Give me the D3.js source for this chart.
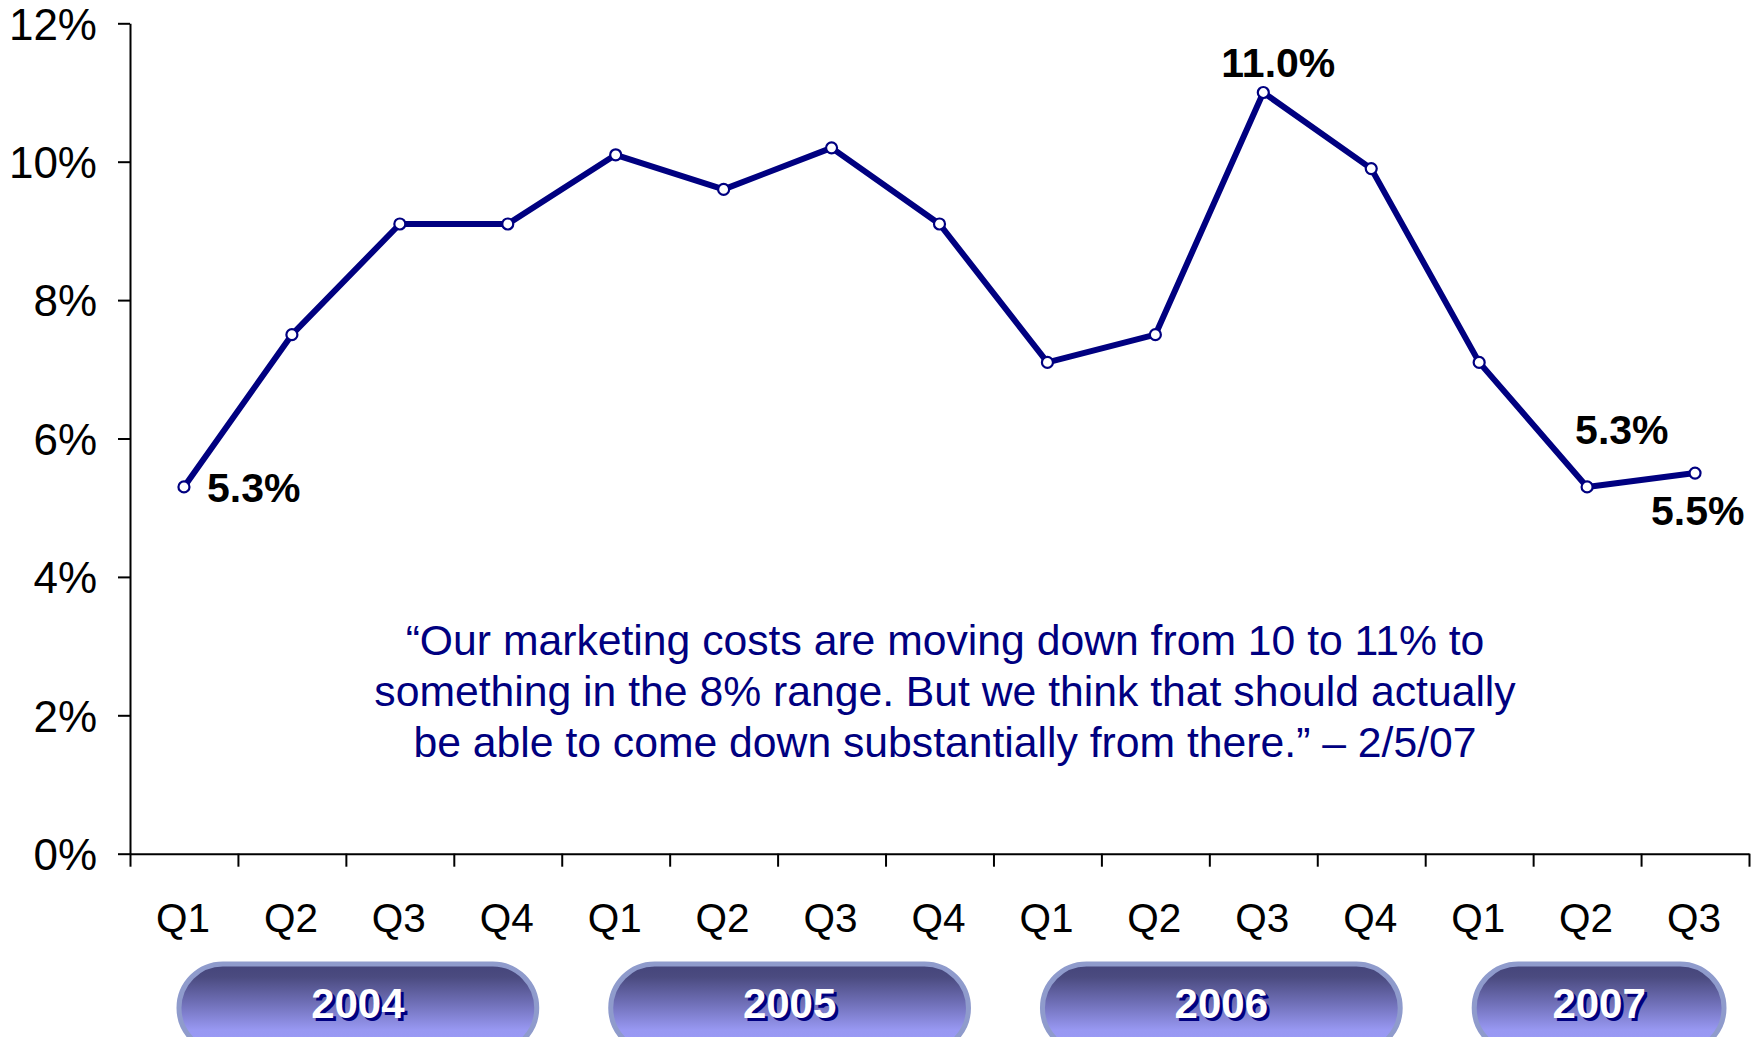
<!DOCTYPE html>
<html>
<head>
<meta charset="utf-8">
<script src="https://cdn.jsdelivr.net/npm/d3@7"></script>
<style>
  html, body { margin: 0; padding: 0; background: #fff; }
  svg { display: block; font-family: "Liberation Sans", Arial, sans-serif; }
</style>
</head>
<body>
<svg id="chart" width="1753" height="1037"></svg>
<script>
// Marketing costs as a share of revenue, by quarter
const quarters = ["Q1","Q2","Q3","Q4","Q1","Q2","Q3","Q4","Q1","Q2","Q3","Q4","Q1","Q2","Q3"];
const marketingPct = [5.3, 7.5, 9.1, 9.1, 10.1, 9.6, 10.2, 9.1, 7.1, 7.5, 11.0, 9.9, 7.1, 5.3, 5.5];
const years = ["2004", "2005", "2006", "2007"];
const quartersPerYear = [4, 4, 4, 3];
const yTickValues = [0, 2, 4, 6, 8, 10, 12];
const labeledIndices = [0, 10, 13, 14];
const quoteLines = [
  "\u201COur marketing costs are moving down from 10 to 11% to",
  "something in the 8% range. But we think that should actually",
  "be able to come down substantially from there.\u201D \u2013 2/5/07"
];

const svg = d3.select("#chart");
const navy = "#000080";

const plotLeft = 130, plotRight = 1749, plotTop = 23.3, plotBottom = 853.7;

// quarter boundaries (0..15) and quarter centers
const xEdge = d3.scaleLinear().domain([0, quarters.length]).range([plotLeft, plotRight]);
const xBand = d3.scaleBand().domain(d3.range(quarters.length)).range([plotLeft, plotRight]).padding(0);
const xMid = i => xBand(i) + xBand.bandwidth() / 2;
const y = d3.scaleLinear().domain([0, 12]).range([plotBottom, plotTop]);

// y axis
const yAxis = svg.append("g")
  .attr("transform", `translate(${plotLeft},0)`)
  .call(d3.axisLeft(y).tickValues(yTickValues).tickFormat(d => d + "%")
    .tickSize(12).tickPadding(21).tickSizeOuter(0));
yAxis.select(".domain").attr("stroke", "#000").attr("stroke-width", 2);
yAxis.selectAll(".tick line").attr("stroke", "#000").attr("stroke-width", 2);
yAxis.selectAll(".tick text")
  .attr("font-family", "Liberation Sans, Arial, sans-serif")
  .attr("font-size", 44).attr("fill", "#000").attr("dy", "0.36em");

// x axis: ticks at the quarter boundaries
const xAxis = svg.append("g")
  .attr("transform", `translate(0,${plotBottom})`)
  .call(d3.axisBottom(xEdge).tickValues(d3.range(quarters.length + 1)).tickFormat("")
    .tickSize(13).tickSizeOuter(0));
xAxis.select(".domain").attr("stroke", "#000").attr("stroke-width", 2);
xAxis.selectAll(".tick line").attr("stroke", "#000").attr("stroke-width", 2);

// quarter labels
svg.append("g").selectAll("text").data(quarters).join("text")
  .attr("x", (d, i) => xMid(i) - 1)
  .attr("y", plotBottom + 78)
  .attr("text-anchor", "middle")
  .attr("font-size", 40.5)
  .attr("fill", "#000")
  .text(d => d);

// year pills
const defs = svg.append("defs");
const grad = defs.append("linearGradient").attr("id", "pillFill")
  .attr("x1", 0).attr("y1", 0).attr("x2", 0).attr("y2", 1);
grad.append("stop").attr("offset", "0%").attr("stop-color", "#44447a");
grad.append("stop").attr("offset", "15%").attr("stop-color", "#4b4b80");
grad.append("stop").attr("offset", "45%").attr("stop-color", "#7070b8");
grad.append("stop").attr("offset", "75%").attr("stop-color", "#9898f2");
grad.append("stop").attr("offset", "100%").attr("stop-color", "#9c9cf8");

let startQ = 0;
const yearSpans = years.map((yr, k) => {
  const s = startQ;
  startQ += quartersPerYear[k];
  return { year: yr, start: s, end: startQ };
});
const insetL = 49, insetR = 25;
const pillTop = 964, pillH = 88;
const pillX = d => xEdge(d.start) + insetL;
const pillW = d => xEdge(d.end) - xEdge(d.start) - insetL - insetR;
const pills = svg.append("g").selectAll("g").data(yearSpans).join("g");
pills.append("rect")
  .attr("x", pillX)
  .attr("y", pillTop)
  .attr("width", pillW)
  .attr("height", pillH)
  .attr("rx", pillH / 2)
  .attr("fill", "url(#pillFill)")
  .attr("stroke", "#8f9bcc")
  .attr("stroke-width", 5);
const pillCx = d => pillX(d) + pillW(d) / 2;
pills.append("text")
  .attr("x", d => pillCx(d) + 3)
  .attr("y", 1018 + 3)
  .attr("text-anchor", "middle")
  .attr("font-size", 42).attr("font-weight", "bold")
  .attr("fill", navy)
  .text(d => d.year);
pills.append("text")
  .attr("x", d => pillCx(d))
  .attr("y", 1018)
  .attr("text-anchor", "middle")
  .attr("font-size", 42).attr("font-weight", "bold")
  .attr("fill", "#fff")
  .text(d => d.year);

// line and markers
const line = d3.line().x((d, i) => xMid(i)).y(d => y(d));
svg.append("path")
  .datum(marketingPct)
  .attr("d", line)
  .attr("fill", "none")
  .attr("stroke", navy)
  .attr("stroke-width", 6)
  .attr("stroke-linejoin", "round");
svg.append("g").selectAll("circle").data(marketingPct).join("circle")
  .attr("cx", (d, i) => xMid(i))
  .attr("cy", d => y(d))
  .attr("r", 5.5)
  .attr("fill", "#fff")
  .attr("stroke", navy)
  .attr("stroke-width", 2.2);

// value labels (offsets from each marker: dx to label start, dy to baseline)
const labelOffset = { 0: [23, 15], 10: [-42, -16], 13: [-12, -43], 14: [-44, 52] };
svg.append("g").selectAll("text").data(labeledIndices).join("text")
  .attr("x", i => xMid(i) + labelOffset[i][0])
  .attr("y", i => y(marketingPct[i]) + labelOffset[i][1])
  .attr("font-size", 41).attr("font-weight", "bold")
  .attr("fill", "#000")
  .text(i => marketingPct[i].toFixed(1) + "%");

// quote
svg.append("g").selectAll("text").data(quoteLines).join("text")
  .attr("x", 945)
  .attr("y", (d, i) => 655 + i * 51)
  .attr("text-anchor", "middle")
  .attr("font-size", 42.7)
  .attr("fill", navy)
  .text(d => d);
</script>
</body>
</html>
